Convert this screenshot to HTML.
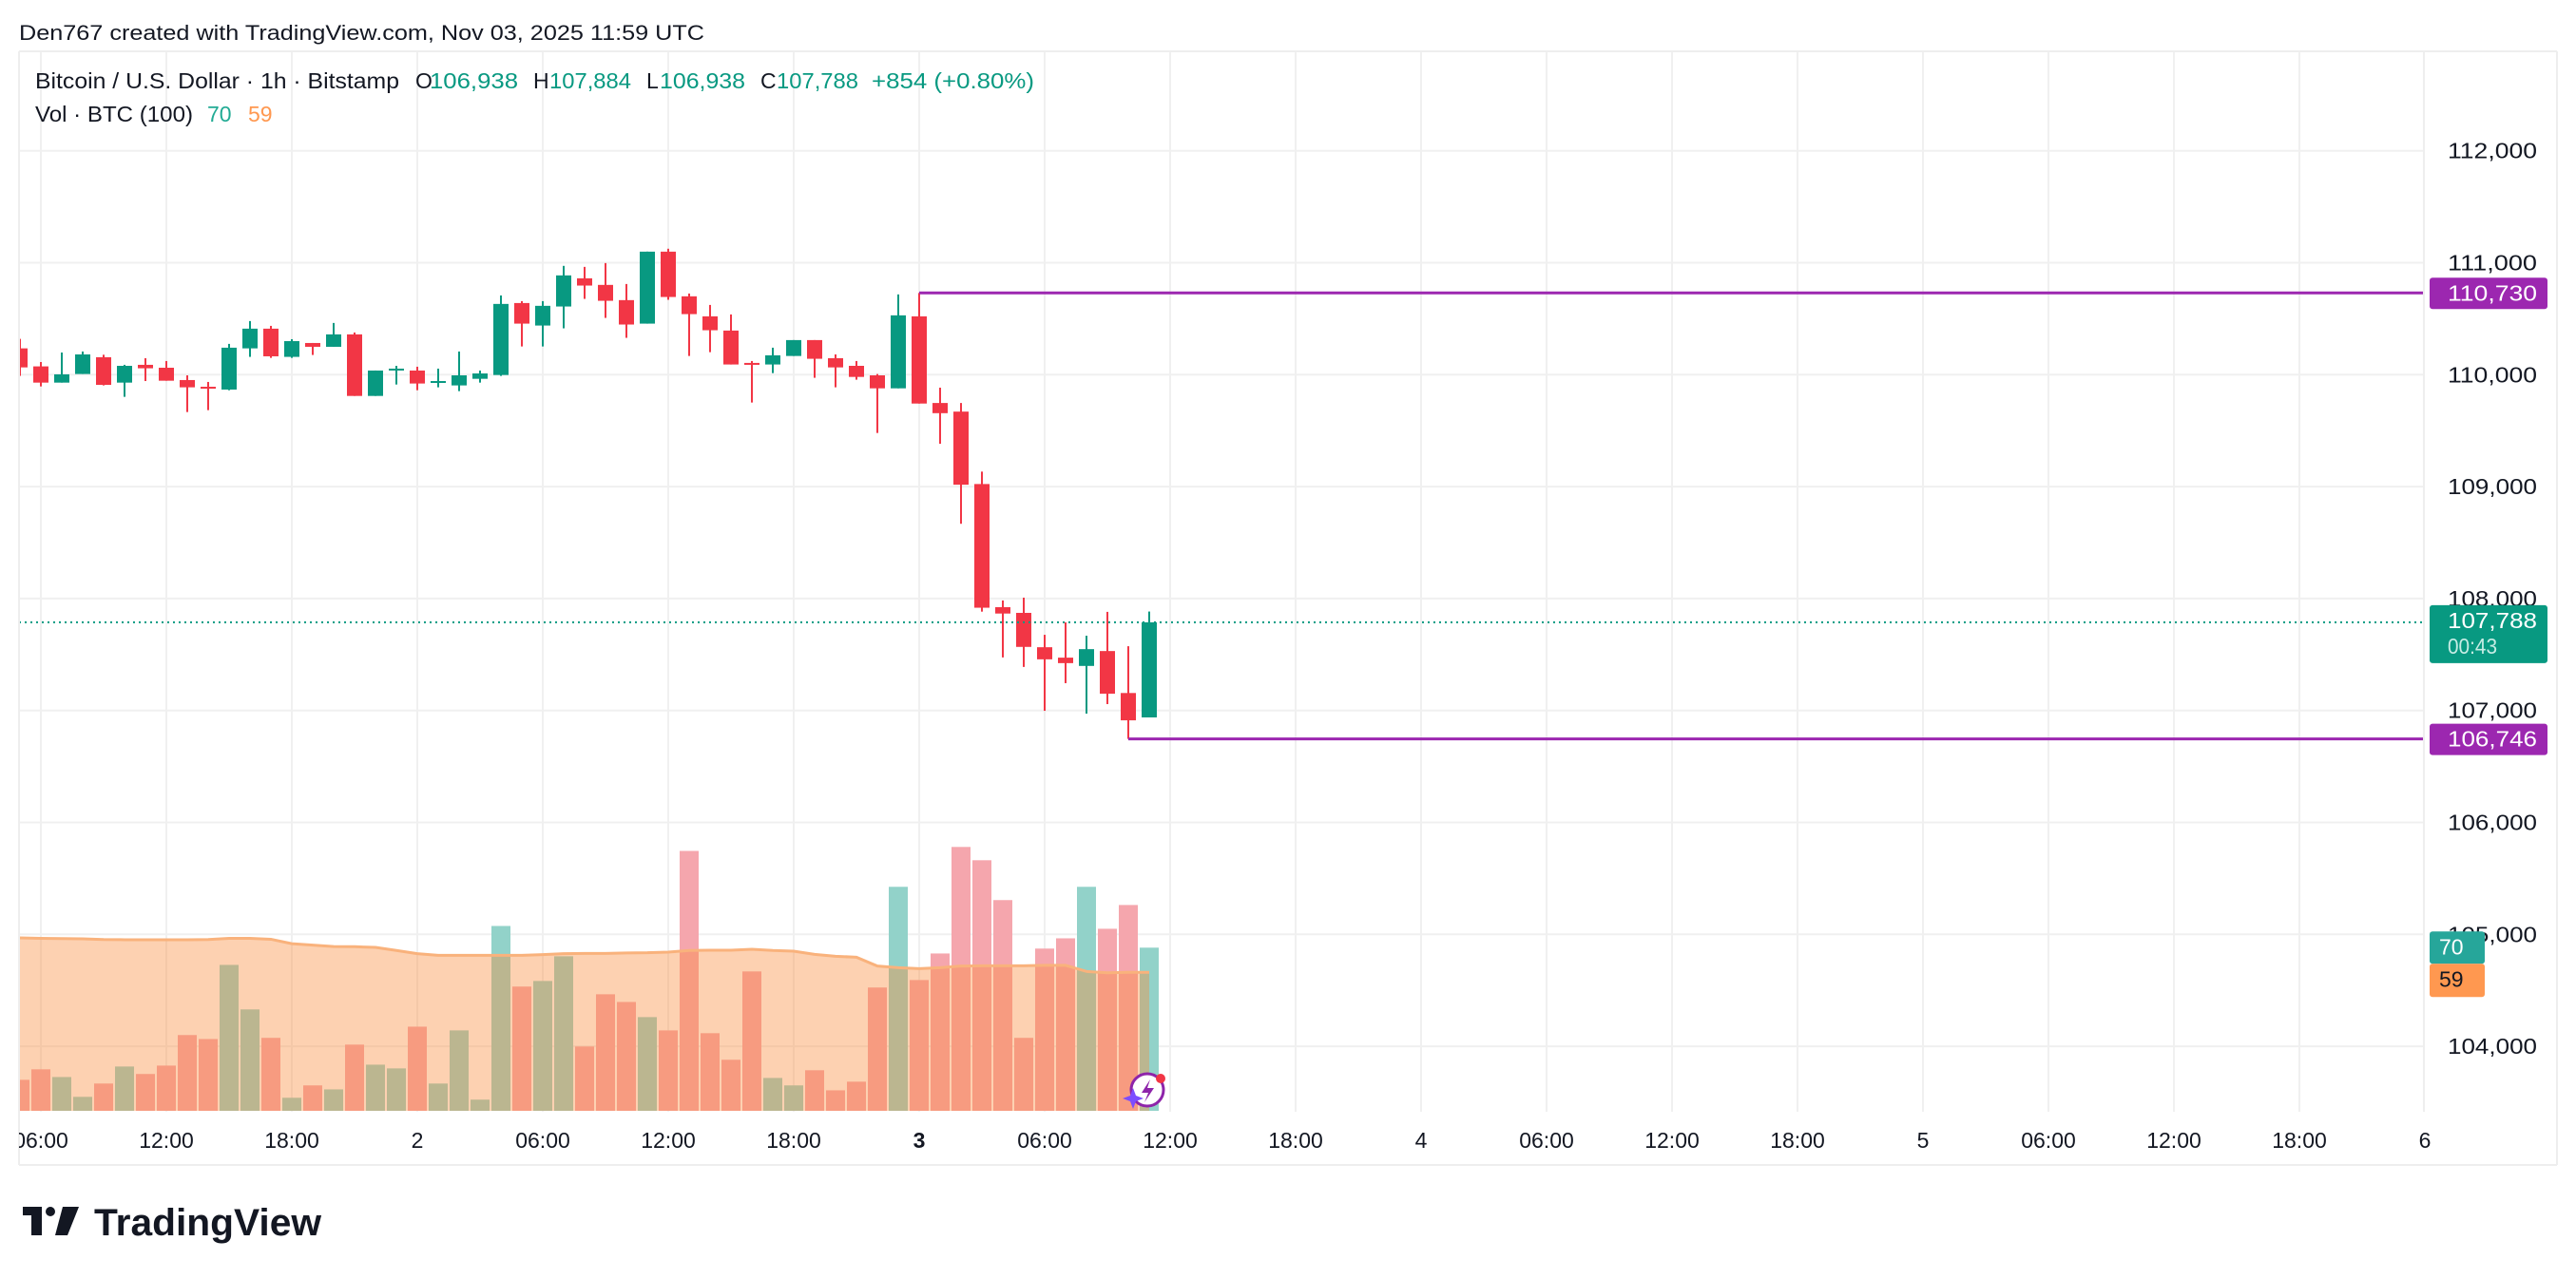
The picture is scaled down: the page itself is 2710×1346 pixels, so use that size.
<!DOCTYPE html>
<html><head><meta charset="utf-8"><style>
html,body{margin:0;padding:0;background:#fff;width:2710px;height:1346px;overflow:hidden}
svg{display:block;font-family:"Liberation Sans",sans-serif}
</style></head><body>
<svg id="chart" width="2710" height="1346" viewBox="0 0 2710 1346" xmlns="http://www.w3.org/2000/svg">
<defs><clipPath id="pane"><rect x="20" y="54" width="2530" height="1116"/></clipPath>
<clipPath id="taxis"><rect x="20" y="1170" width="2670" height="56"/></clipPath></defs>
<text x="20" y="42" font-size="22" fill="#131722" textLength="721" lengthAdjust="spacingAndGlyphs">Den767 created with TradingView.com, Nov 03, 2025 11:59 UTC</text>
<g id="grid"></g>
<g id="vol" clip-path="url(#pane)"></g>
<g id="candles" clip-path="url(#pane)"></g>
<g id="axes"></g>
<g font-size="23">
<text x="37" y="93" fill="#131722" textLength="383" lengthAdjust="spacingAndGlyphs">Bitcoin / U.S. Dollar · 1h · Bitstamp</text>
<text x="437" y="93" fill="#131722">O</text><text x="452" y="93" fill="#089981" textLength="93" lengthAdjust="spacingAndGlyphs">106,938</text>
<text x="561" y="93" fill="#131722">H</text><text x="578" y="93" fill="#089981" textLength="86" lengthAdjust="spacingAndGlyphs">107,884</text>
<text x="680" y="93" fill="#131722">L</text><text x="694" y="93" fill="#089981" textLength="90" lengthAdjust="spacingAndGlyphs">106,938</text>
<text x="800" y="93" fill="#131722">C</text><text x="817" y="93" fill="#089981" textLength="86" lengthAdjust="spacingAndGlyphs">107,788</text>
<text x="917" y="93" fill="#089981" textLength="171" lengthAdjust="spacingAndGlyphs">+854 (+0.80%)</text>
<text x="37" y="128" fill="#131722" textLength="166" lengthAdjust="spacingAndGlyphs">Vol · BTC (100)</text>
<text x="218" y="128" fill="#22ab94">70</text><text x="261" y="128" fill="#ff9850">59</text>
</g>
<g>
<rect x="24" y="1270" width="20" height="9" fill="#131722"/><rect x="33" y="1270" width="11" height="30" fill="#131722"/>
<circle cx="53" cy="1275" r="5" fill="#131722"/><polygon points="66,1270 83,1270 71,1300 58,1300" fill="#131722"/>
<text x="99" y="1300" font-size="40" font-weight="bold" fill="#131722" textLength="239" lengthAdjust="spacingAndGlyphs">TradingView</text>
</g>
</svg>
<script>
const opens =[110235,110074,109929,110006,110156,109929,110088,110062,109952,109892,109867,110235,110411,110159,110283,110249,110360,109810,110040,110037,109929,109904,109963,109997,110640,110439,110609,110861,110802,110666,110456,111099,110700,110521,110394,110105,110091,110167,110309,110147,110079,109994,109878,110521,109747,109670,109023,107923,107872,107565,107472,107398,107531,107156,106938];
const highs =[110320,110113,110198,110207,110178,110088,110147,110122,109994,109935,110275,110479,110436,110317,110283,110462,110377,110037,110079,110071,110054,110207,110037,110708,110657,110657,110972,110963,110997,110810,111099,111125,110725,110623,110538,110122,110241,110309,110309,110181,110122,110006,110717,110730,109884,109747,109134,107983,108008,107676,107787,107668,107881,107574,107884];
const lows  =[109989,109895,109929,110006,109904,109802,109943,109946,109666,109683,109861,110159,110150,110150,110176,110249,109810,109810,109912,109861,109887,109853,109929,109989,110252,110252,110414,110677,110507,110329,110456,110669,110167,110201,110091,109751,110014,110167,109972,109887,109955,109479,109878,109742,109383,108668,107883,107474,107389,106997,107244,106972,107057,106746,106938];
const closes=[110065,109929,110003,110181,109909,110079,110057,109946,109887,109875,110241,110411,110164,110300,110249,110360,109810,110037,110054,109921,109943,109994,110011,110632,110456,110615,110887,110796,110660,110448,111099,110694,110541,110397,110091,110091,110173,110309,110142,110065,109980,109878,110530,109742,109656,109017,107918,107866,107568,107457,107423,107548,107150,106912,107788];
const volumes=[13.3,17.8,14.5,6.0,11.7,19.0,15.8,19.4,32.5,30.8,62.6,43.5,31.3,5.6,10.9,9.2,28.4,19.8,18.2,36.1,11.7,34.5,4.8,79.3,53.3,55.7,66.3,27.6,50.0,46.7,40.2,34.5,111.5,33.3,21.9,59.8,14.1,10.9,17.4,8.8,12.5,52.9,96.1,56.1,67.5,113.2,107.5,90.4,31.3,69.6,74.0,96.1,78.1,88.3,70.0];
const volMA=[74.2,74.0,73.9,73.8,73.5,73.4,73.4,73.4,73.4,73.5,74.0,74.0,73.6,71.7,71.1,70.5,70.4,70.1,68.8,67.4,66.7,66.7,66.7,66.7,66.7,67.0,67.4,67.5,67.5,67.7,67.8,68.1,68.8,68.9,68.9,69.3,68.8,68.5,67.1,66.3,65.9,62.1,61.4,61.0,61.4,62.1,62.2,62.2,62.2,62.4,62.4,59.8,59.2,59.4,59.4];
const firstHour=-43; // hours relative to Nov 3 00:00
const priceTicks=[112000,111000,110000,109000,108000,107000,106000,105000,104000];
const timeTickHours=[-42,-36,-30,-24,-18,-12,-6,0,6,12,18,24,30,36,42,48,54,60,66,72];
const timeTickLabels=["06:00","12:00","18:00","2","06:00","12:00","18:00","3","06:00","12:00","18:00","4","06:00","12:00","18:00","5","06:00","12:00","18:00","6"];
const highLevel=110730, lowLevel=106746, lastPrice=107788;

const NS="http://www.w3.org/2000/svg";
const X0=967, PX_H=22;
const xH=h=>X0+h*PX_H;
const xI=i=>xH(firstHour+i);
const yP=p=>394.3+(110000-p)*0.1178;
const VB=1169, yV=v=>VB-v*2.453;
function mk(parent,tag,attrs){const e=document.createElementNS(NS,tag);for(const k in attrs)e.setAttribute(k,attrs[k]);parent.appendChild(e);return e;}
const G=document.getElementById('grid'),V=document.getElementById('vol'),C=document.getElementById('candles'),A=document.getElementById('axes');
const GREEN="#089981",RED="#f23645",PURPLE="#9c27b0";

priceTicks.forEach(p=>{const l=mk(G,'line',{x1:20,x2:2550,y1:yP(p),y2:yP(p),stroke:'#f0f0f0','stroke-width':2});

});
timeTickHours.forEach(h=>{if(xH(h)<20||xH(h)>2550)return;const l=mk(G,'line',{x1:xH(h),x2:xH(h),y1:54,y2:1170,stroke:'#f0f0f0','stroke-width':2});

});

volumes.forEach((v,i)=>{const up=closes[i]>=opens[i];
const r=mk(V,'rect',{x:xI(i)-10,y:yV(v),width:20,height:v*2.453,fill:up?'#92d2c9':'#f5a6ad'});

});
let d='M20 '+VB+' L20 '+yV(volMA[0]);volMA.forEach((m,i)=>{d+=' L'+xI(i)+' '+yV(m);});
d+=' L'+xI(volMA.length-1)+' '+VB+' Z';
const area=mk(V,'path',{d:d,fill:'rgba(250,140,60,0.4)'});


let dl='M20 '+yV(volMA[0]);volMA.forEach((m,i)=>{dl+=' L'+xI(i)+' '+yV(m);});
const mal=mk(V,'path',{d:dl,fill:'none',stroke:'#f9b27c','stroke-width':3});



opens.forEach((o,i)=>{const c=closes[i],up=c>=o,col=up?GREEN:RED,x=xI(i);
const g=mk(C,'g',{});


mk(g,'rect',{x:x-1,y:yP(highs[i]),width:2,height:Math.max(1,yP(lows[i])-yP(highs[i])),fill:col});
const t=yP(Math.max(o,c)),b=yP(Math.min(o,c));
mk(g,'rect',{x:x-8,y:t,width:16,height:Math.max(2,b-t),fill:col});});

// level anchors: candle whose high/low is nearest the level
function nearest(arr,v){let bi=0,bd=1e18;arr.forEach((a,i)=>{const dd=Math.abs(a-v);if(dd<bd){bd=dd;bi=i;}});return bi;}
const hi=nearest(highs,highLevel), lo=nearest(lows,lowLevel);
const hl=mk(C,'line',{x1:xI(hi),x2:2550,y1:yP(highLevel),y2:yP(highLevel),stroke:PURPLE,'stroke-width':3});


const ll=mk(C,'line',{x1:xI(lo),x2:2550,y1:yP(lowLevel),y2:yP(lowLevel),stroke:PURPLE,'stroke-width':3});


const pl=mk(C,'line',{x1:20,x2:2550,y1:yP(lastPrice),y2:yP(lastPrice),stroke:GREEN,'stroke-width':2,'stroke-dasharray':'2 4'});


const ic=mk(C,'g',{});


mk(ic,'circle',{cx:1207,cy:1147,r:17,fill:'#fff',stroke:'#8e24aa','stroke-width':3});
mk(ic,'path',{d:'M1210 1136 L1201 1150 L1208 1150 L1204 1160 L1214 1145 L1207 1145 Z',fill:'#8e24aa'});
mk(ic,'circle',{cx:1221,cy:1135,r:5,fill:RED});
mk(ic,'path',{d:'M1192 1145 L1195 1153 L1203 1156 L1195 1159 L1192 1167 L1189 1159 L1181 1156 L1189 1153 Z',fill:'#7c4dff'});

[[20,54,2690,54],[2550,54,2550,1170],[2690,54,2690,1226],[20,1226,2690,1226],[20,54,20,1226]].forEach(a=>{
const l=mk(A,'line',{x1:a[0],y1:a[1],x2:a[2],y2:a[3],stroke:'#eeeeee','stroke-width':2});

});

priceTicks.forEach(p=>{const t=mk(A,'text',{x:2575,y:yP(p)+8,'font-size':23,fill:'#131722',textLength:94,lengthAdjust:'spacingAndGlyphs'});
t.textContent=p.toLocaleString('en-US');

});
const TA=mk(A,'g',{'clip-path':'url(#taxis)'});
timeTickHours.forEach((h,i)=>{const lab=timeTickLabels[i];const bold=lab==='3';
const t=mk(TA,'text',{x:xH(h),y:1208,'font-size':23,fill:'#131722','text-anchor':'middle','font-weight':bold?'bold':'normal'});
t.textContent=lab;

});

function badge(name,y1,h,fill,w,lines,colors){const g=mk(A,'g',{});


mk(g,'rect',{x:2556,y:y1,width:w,height:h,rx:3,fill:fill});
lines.forEach((s,k)=>{const t=mk(g,'text',{x:w>100?2575:2566,y:y1+24+k*27,'font-size':23,fill:colors[k]});t.textContent=s;
if(w>100){t.setAttribute('textLength',s.length>5?94:52);t.setAttribute('lengthAdjust','spacingAndGlyphs');}});}
badge('high-level-badge',yP(highLevel)-16,33,PURPLE,124,[highLevel.toLocaleString('en-US')],['#fff']);
badge('last-price-badge',yP(lastPrice)-18,61,GREEN,124,[lastPrice.toLocaleString('en-US'),'00:43'],['#fff','#c6ece4']);
badge('low-level-badge',yP(lowLevel)-16,33,PURPLE,124,[lowLevel.toLocaleString('en-US')],['#fff']);
badge('volume-badge',yV(volumes[volumes.length-1])-17,34,'#26a69a',58,[String(Math.round(volumes[volumes.length-1]))],['#fff']);
badge('volume-ma-badge',yV(volumes[volumes.length-1])+17,35,'#ff9850',58,[String(Math.round(volMA[volMA.length-1]))],['#131722']);
</script>
</body></html>
